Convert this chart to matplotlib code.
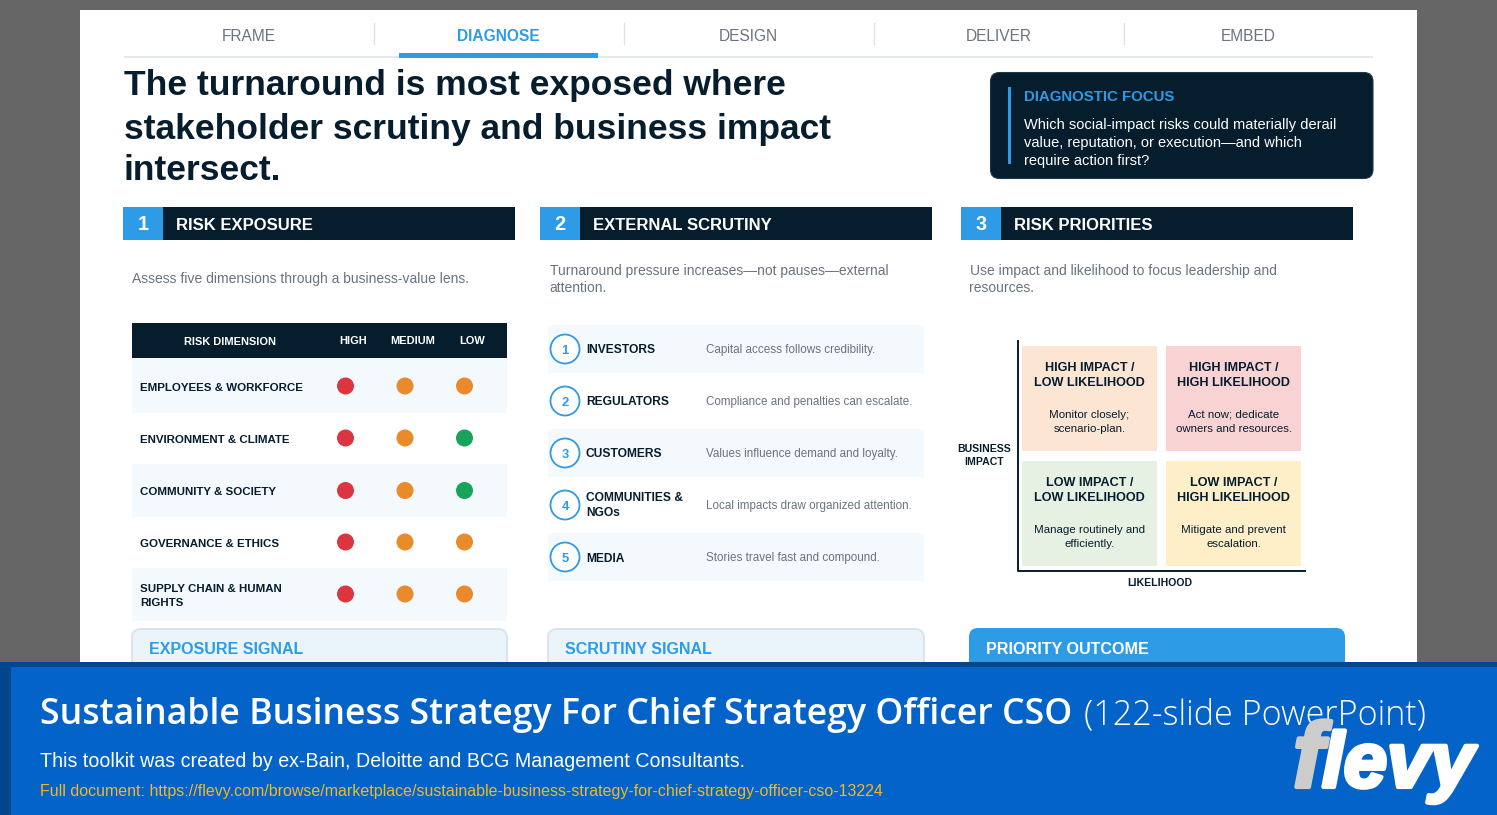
import matplotlib
matplotlib.use("Agg")
import matplotlib.pyplot as plt
import matplotlib.patheffects as pe
from matplotlib.patches import Rectangle, FancyBboxPatch, Circle

# Chart content
tabs = ["FRAME", "DIAGNOSE", "DESIGN", "DELIVER", "EMBED"]
title_lines = ["The turnaround is most exposed where",
               "stakeholder scrutiny and business impact",
               "intersect."]
focus_lines = ["Which social-impact risks could materially derail",
               "value, reputation, or execution\u2014and which",
               "require action first?"]
sections = ["RISK EXPOSURE", "EXTERNAL SCRUTINY", "RISK PRIORITIES"]

risk_rows = ["EMPLOYEES & WORKFORCE", "ENVIRONMENT & CLIMATE", "COMMUNITY & SOCIETY",
             "GOVERNANCE & ETHICS", "SUPPLY CHAIN & HUMAN\nRIGHTS"]
risk_cols = ["HIGH", "MEDIUM", "LOW"]
risk_high = ["r", "r", "r", "r", "r"]
risk_medium = ["o", "o", "o", "o", "o"]
risk_low = ["o", "g", "g", "o", "o"]

stakeholders = ["INVESTORS", "REGULATORS", "CUSTOMERS", "COMMUNITIES &\nNGOs", "MEDIA"]
stakeholder_notes = ["Capital access follows credibility.",
                     "Compliance and penalties can escalate.",
                     "Values influence demand and loyalty.",
                     "Local impacts draw organized attention.",
                     "Stories travel fast and compound."]

matrix_heads = [["HIGH IMPACT /\nLOW LIKELIHOOD", "HIGH IMPACT /\nHIGH LIKELIHOOD"],
                ["LOW IMPACT /\nLOW LIKELIHOOD", "LOW IMPACT /\nHIGH LIKELIHOOD"]]
matrix_notes = [["Monitor closely;\nscenario-plan.", "Act now; dedicate\nowners and resources."],
                ["Manage routinely and\nefficiently.", "Mitigate and prevent\nescalation."]]

NAVY = "#061d2e"
BLUE = "#2e9be6"
GREY = "#6b7280"
TINT = "#f4f9fd"
dot_colors = {"r": "#dc3540", "o": "#e98b2a", "g": "#17a35c"}
matrix_colors = [["#fce5d3", "#f9d3d4"], ["#e7f1e3", "#ffefc9"]]

plt.rcParams["font.family"] = ["Liberation Sans", "DejaVu Sans"]

fig = plt.figure(figsize=(14.97, 8.15), dpi=100, facecolor="#666666")
ax = fig.add_axes([0, 0, 1, 1])
ax.set_xlim(0, 1497)
ax.set_ylim(815, 0)
ax.axis("off")


def box(x0, y0, x1, y1, color, z=1):
    ax.add_patch(Rectangle((x0, y0), x1 - x0, y1 - y0, fc=color, ec="none", zorder=z))


def rbox(x0, y0, x1, y1, color, edge="none", r=9, z=1, lw=1.4):
    ax.add_patch(FancyBboxPatch((x0 + r, y0 + r), x1 - x0 - 2 * r, y1 - y0 - 2 * r,
                                boxstyle=f"round,pad={r},rounding_size={r}",
                                fc=color, ec=edge, lw=lw, zorder=z))


# sizes are given in pixels, the +1 puts matplotlib's centre on the slide's text centre
def txt(x, y, s, px, color=NAVY, bold=False, ha="left", z=5, **kw):
    return ax.text(x, y + 1, s, fontsize=px * 0.72, color=color, ha=ha, va="center",
                   fontweight="bold" if bold else "normal", zorder=z, **kw)


box(80, 10, 1417, 680, "white")

# Tabs
for i, name in enumerate(tabs):
    active = name == "DIAGNOSE"
    txt(248.5 + 250 * i, 35.5, name, 15.5, BLUE if active else GREY, bold=active, ha="center")
    if i < 4:
        ax.plot([373.5 + 250 * i] * 2, [23, 44], color="#dde2e8", lw=1, zorder=2)
box(124, 56, 1373, 58, "#e4e7ec", 2)
box(398.5, 53, 598, 58, BLUE, 3)

# Headline
for y, line in zip([85, 128, 170], title_lines):
    txt(124, y, line, 35.4, bold=True)

# Focus box
rbox(990.5, 72.5, 1373, 178.5, NAVY, edge="#22384a", lw=0.8)
box(1007.5, 87, 1011, 164, BLUE, 3)
txt(1024, 96, "DIAGNOSTIC FOCUS", 15, BLUE, bold=True)
for y, line in zip([124.5, 142.5, 159.5], focus_lines):
    txt(1024, y, line, 14.6, "white")

# Section headers
for x0, num, name in zip([123, 540, 961], "123", sections):
    box(x0, 206.5, x0 + 392, 240, NAVY, 2)
    box(x0, 206.5, x0 + 40, 240, BLUE, 3)
    txt(x0 + 20, 223, num, 20, "white", bold=True, ha="center")
    txt(x0 + 53, 224, name, 16.6, "white", bold=True)

txt(132, 278.5, "Assess five dimensions through a business-value lens.", 13.9, GREY)
txt(549.5, 269.5, "Turnaround pressure increases\u2014not pauses\u2014external", 13.9, GREY)
txt(549.5, 286.5, "attention.", 13.9, GREY)
txt(969.5, 269.5, "Use impact and likelihood to focus leadership and", 13.9, GREY)
txt(969.5, 286.5, "resources.", 13.9, GREY)

# Risk table
box(132, 322.5, 507, 358, NAVY, 2)
txt(230, 341, "RISK DIMENSION", 11, "white", bold=True, ha="center")
for x, name in zip([353, 412.5, 472], risk_cols):
    txt(x, 340, name, 11, "white", bold=True, ha="center")
row_edges = [358, 413, 464, 517, 568, 621]
dot_y = [386, 438, 490.5, 542, 594]
label_y = [386.6, 438.6, 490.6, 542.6, 594.6]
for i, name in enumerate(risk_rows):
    if i % 2 == 0:
        box(132, row_edges[i], 507, row_edges[i + 1], TINT, 2)
    txt(140, label_y[i], name, 11.5, bold=True, linespacing=1.5)
    for x, col in zip([345.5, 405, 464.5], [risk_high, risk_medium, risk_low]):
        ax.add_patch(Circle((x, dot_y[i]), 8.5, fc=dot_colors[col[i]], ec="none", zorder=4))

# Stakeholder list
list_y = [349, 401, 453, 505, 557]
for i, (name, note) in enumerate(zip(stakeholders, stakeholder_notes)):
    if i % 2 == 0:
        box(548, list_y[i] - 24, 924, list_y[i] + 24, TINT, 2)
    ax.add_patch(Circle((565, list_y[i]), 14.5, fc="white", ec=BLUE, lw=1.3, zorder=3))
    txt(565, list_y[i] + 1, str(i + 1), 13, BLUE, bold=True, ha="center")
    txt(586, list_y[i] - 0.3 + (1 if i == 4 else 0), name, 12, bold=True, linespacing=1.4)
    txt(706, list_y[i] + (0.5 if i == 4 else 0), note, 11.6, GREY)

# Priority matrix
cell_x = [1022, 1166]
cell_y = [346, 461]
for r in range(2):
    for c in range(2):
        box(cell_x[c], cell_y[r], cell_x[c] + 135, cell_y[r] + 105, matrix_colors[r][c], 2)
        cx = cell_x[c] + 67.5
        txt(cx, cell_y[r] + 28.5, matrix_heads[r][c], 12.6, bold=True, ha="center", linespacing=1.3)
        txt(cx, cell_y[r] + 74.5 + 0.4 * r, matrix_notes[r][c], 11.5, ha="center", linespacing=1.5)
ax.plot([1017.5, 1017.5, 1305], [341, 570.5, 570.5], color=NAVY, lw=1.4, zorder=3)
txt(984, 454.5, "BUSINESS\nIMPACT", 10.5, bold=True, ha="center", linespacing=1.3)
txt(1160, 582.5, "LIKELIHOOD", 10.5, bold=True, ha="center")

# Signal cards, cut off by the banner
rbox(132, 629, 507, 700, "#e9f4fb", edge="#dbe3ea")
rbox(548, 629, 924, 700, "#e9f4fb", edge="#dbe3ea")
rbox(969, 628, 1345, 700, BLUE)
txt(149, 648, "EXPOSURE SIGNAL", 16, BLUE, bold=True)
txt(565, 648, "SCRUTINY SIGNAL", 16, BLUE, bold=True)
txt(986, 648, "PRIORITY OUTCOME", 16.1, "white", bold=True)

# Banner
box(0, 662, 1497, 815, "#00468c", 10)
box(11, 667, 1497, 815, "#0363c9", 11)
ax.text(40, 715, "Sustainable Business Strategy For Chief Strategy Officer CSO",
        family="Open Sans", fontweight="semibold", fontsize=35.6 * 0.72, color="white",
        va="center", zorder=12)
ax.text(1084, 715, "(122-slide PowerPoint)", family="Open Sans", fontweight="light",
        fontsize=34.2 * 0.72, color="white", va="center", zorder=12)
txt(40, 760.5, "This toolkit was created by ex-Bain, Deloitte and BCG Management Consultants.",
    19.7, "white", z=12)
txt(40, 790.5, "Full document: https://flevy.com/browse/marketplace/sustainable-business-strategy-for-chief-strategy-officer-cso-13224",
    16, "#f2b825", z=12)

# Logo
stroke = lambda c: [pe.withStroke(linewidth=3, foreground=c)]
ax.text(1293, 787, "f", fontsize=92 * 0.72, style="italic", fontweight="bold", color="#cccccc",
        va="baseline", zorder=13, path_effects=stroke("#cccccc"))
ax.text(1322, 787, "levy", fontsize=78 * 0.72, style="italic", fontweight="bold", color="white",
        va="baseline", zorder=13, path_effects=stroke("white"))

fig.savefig("out.png", dpi=100, facecolor=fig.get_facecolor())
